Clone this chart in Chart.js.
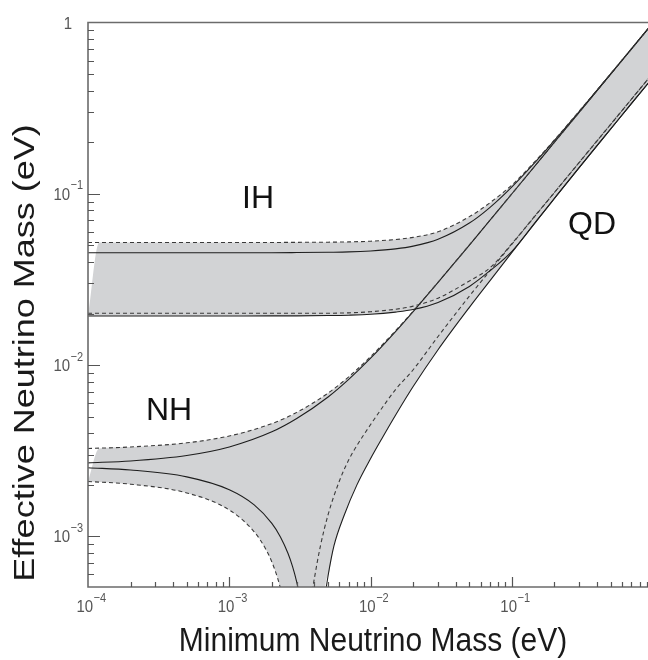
<!DOCTYPE html>
<html>
<head>
<meta charset="utf-8">
<script src="https://cdn.jsdelivr.net/npm/chart.js@4.4.1/dist/chart.umd.min.js"></script>
<style>
  html, body { margin: 0; padding: 0; background: #fff; }
  canvas { display: block; }
</style>
</head>
<body>
<canvas id="massChart" width="648" height="660"></canvas>
<script>
// lightest neutrino mass (eV) used by most of the curves
const mGrid = [1e-4, 2e-4, 5e-4, 1e-3, 2e-3, 3e-3, 5e-3, 7e-3, 1e-2, 1.5e-2, 2e-2, 3e-2, 5e-2, 7e-2, 0.1, 0.15, 0.2, 0.3, 0.5, 0.7, 0.92];

// inverted hierarchy band (effective mass, eV)
const ihUpperSolid  = [0.0453, 0.0453, 0.0453, 0.0453, 0.0453, 0.0454, 0.0456, 0.0458, 0.0464, 0.0477, 0.0495, 0.0543, 0.0675, 0.0834, 0.1098, 0.1567, 0.2051, 0.3034, 0.502, 0.7015, 0.921];
const ihUpperDashed = [0.0520, 0.0520, 0.0520, 0.0520, 0.0520, 0.0521, 0.0522, 0.0524, 0.0529, 0.0541, 0.0557, 0.0600, 0.0736, 0.0888, 0.1127, 0.1587, 0.2067, 0.3045, 0.5027, 0.7019, 0.9215];
const ihLowerSolid  = [0.01935, 0.01935, 0.01935, 0.01936, 0.01938, 0.0194, 0.01947, 0.01957, 0.0198, 0.0204, 0.0211, 0.0232, 0.0288, 0.0356, 0.0462, 0.0700, 0.0942, 0.1428, 0.2393, 0.3363, 0.442];
const ihLowerDashed = [0.0201, 0.0201, 0.0201, 0.0201, 0.0201, 0.0201, 0.0201, 0.0202, 0.0205, 0.0212, 0.0221, 0.0246, 0.0310, 0.0370, 0.0512, 0.0766, 0.1020, 0.1530, 0.2547, 0.3565, 0.4685];

// normal hierarchy band, upper edge
const nhUpperSolid  = [0.00269, 0.00276, 0.00297, 0.00333, 0.00408, 0.00488, 0.00652, 0.00826, 0.01098, 0.0157, 0.02055, 0.0304, 0.0502, 0.0702, 0.1001, 0.150, 0.200, 0.300, 0.500, 0.700, 0.920];
const nhUpperDashed = [0.00326, 0.00333, 0.00352, 0.00386, 0.00456, 0.0053, 0.00687, 0.00855, 0.01122, 0.01588, 0.02068, 0.03047, 0.05029, 0.0702, 0.1002, 0.1501, 0.2001, 0.300, 0.500, 0.700, 0.920];

// normal hierarchy lower edge, before the cancellation dip
const nhLowSolidLeftM  = [1e-4, 2e-4, 5e-4, 1e-3, 1.5e-3, 2e-3, 2.3e-3, 2.6e-3, 2.8e-3, 3.0e-3, 3.15e-3, 3.3e-3];
const nhLowSolidLeft   = [0.002517, 0.002444, 0.002228, 0.001874, 0.001529, 0.001192, 0.000994, 0.000798, 0.000669, 0.000542, 0.000447, 0.000352];
const nhLowDashedLeftM = [1e-4, 2e-4, 5e-4, 1e-3, 1.5e-3, 1.8e-3, 2.0e-3, 2.2e-3, 2.35e-3, 2.5e-3];
const nhLowDashedLeft  = [0.002094, 0.002019, 0.001795, 0.001427, 0.001065, 0.000851, 0.00071, 0.000569, 0.000465, 0.000361];

// normal hierarchy lower edge, after the dip
const nhLowSolidRightM  = [4.7e-3, 5e-3, 5.5e-3, 6.5e-3, 8e-3, 1e-2, 1.2e-2, 1.5e-2, 2e-2, 3e-2, 5e-2, 7e-2, 0.1, 0.15, 0.2, 0.3, 0.5, 0.7, 0.92];
const nhLowSolidRight   = [0.00042, 0.00059, 0.00088, 0.00133, 0.0020, 0.00285, 0.00372, 0.0051, 0.0075, 0.0123, 0.02175, 0.03115, 0.0455, 0.0698, 0.094, 0.1425, 0.239, 0.336, 0.4416];
const nhLowDashedRightM = [3.8e-3, 4e-3, 4.4e-3, 5e-3, 6e-3, 7e-3, 8e-3, 1e-2, 1.2e-2, 1.5e-2, 2e-2, 3e-2, 5e-2, 7e-2, 0.1, 0.15, 0.2, 0.3, 0.5, 0.7, 0.92];
const nhLowDashedRight  = [0.00044, 0.00057, 0.00087, 0.00134, 0.0021, 0.0028, 0.0034, 0.0045, 0.0056, 0.0072, 0.0094, 0.0147, 0.0253, 0.0356, 0.0509, 0.0764, 0.1018, 0.1527, 0.2545, 0.3563, 0.4683];

// axes
const xRange = [1e-4, 0.918];
const yRange = [5.07e-4, 1];
const xMajorTicks = [1e-4, 1e-3, 1e-2, 1e-1];
const xTickExps   = ['\u22124', '\u22123', '\u22122', '\u22121'];
const yMajorTicks = [1e-3, 1e-2, 1e-1, 1];
const yTickExps   = ['\u22123', '\u22122', '\u22121', null];

const xTitle = 'Minimum Neutrino Mass (eV)';
const yTitle = 'Effective Neutrino Mass (eV)';
const regionLabels = [
    { text: 'IH', x: 242, y: 208 },
    { text: 'NH', x: 146, y: 420 },
    { text: 'QD', x: 568, y: 234 }
];

// the shaded bands start slightly right of the axis at their top edge
const bandTopStart = 1.2e-4;
const belowAxis = 1e-5;

const bandGray = '#d2d3d5';
const fontFamily = '"Liberation Sans", Arial, Helvetica, sans-serif';

const pts = (xs, ys) => xs.map((x, i) => ({ x, y: ys[i] }));

const solidLine = data => ({
    data, borderColor: '#1e1e1e', borderWidth: 1.1, fill: false,
    pointRadius: 0, cubicInterpolationMode: 'monotone'
});
const dashedLine = data => Object.assign(solidLine(data), { borderColor: '#3a3a3a', borderDash: [4, 3] });
const bandEdge = (data, target) => ({
    data, borderColor: 'rgba(0,0,0,0)', borderWidth: 1, backgroundColor: bandGray,
    fill: target, pointRadius: 0, cubicInterpolationMode: 'monotone'
});

const ihTop = [{ x: mGrid[0], y: ihLowerSolid[0] }, { x: bandTopStart, y: ihUpperDashed[0] }]
    .concat(pts(mGrid.slice(1), ihUpperDashed.slice(1)));
const ihBottom = pts(mGrid, ihLowerSolid);
const nhTop = [{ x: mGrid[0], y: nhLowDashedLeft[0] }, { x: bandTopStart, y: nhUpperDashed[0] }]
    .concat(pts(mGrid.slice(1), nhUpperDashed.slice(1)));
const nhBottom = pts(nhLowDashedLeftM, nhLowDashedLeft)
    .concat([{ x: 2.7e-3, y: belowAxis }, { x: 4.5e-3, y: belowAxis }])
    .concat(pts(nhLowSolidRightM, nhLowSolidRight));

function drawPower(ctx, exp, cx, baseY) {
    ctx.save();
    ctx.translate(cx, baseY);
    ctx.scale(1, 1.15);
    ctx.fillStyle = '#555';
    ctx.textAlign = 'left';
    ctx.textBaseline = 'alphabetic';
    ctx.font = '15px ' + fontFamily;
    if (exp === null) {
        const w = ctx.measureText('1').width;
        ctx.fillText('1', -w / 2, 0);
    } else {
        const wb = ctx.measureText('10').width;
        ctx.font = '11px ' + fontFamily;
        const we = ctx.measureText(exp).width;
        const x0 = -(wb + we) / 2;
        ctx.font = '15px ' + fontFamily;
        ctx.fillText('10', x0, 0);
        ctx.font = '11px ' + fontFamily;
        ctx.fillText(exp, x0 + wb + 0.5, -9);
    }
    ctx.restore();
}

const frameAndText = {
    id: 'frameAndText',
    afterDatasetsDraw(chart) {
        const { ctx, chartArea: area, scales: { x, y } } = chart;
        ctx.save();

        // frame: the right edge of the plot runs off the page
        ctx.strokeStyle = '#6b6b6b';
        ctx.lineWidth = 1.6;
        ctx.beginPath();
        ctx.moveTo(area.right, area.top);
        ctx.lineTo(area.left, area.top);
        ctx.lineTo(area.left, area.bottom);
        ctx.lineTo(area.right, area.bottom);
        ctx.stroke();

        // inward log ticks
        ctx.strokeStyle = '#555';
        ctx.lineWidth = 1.2;
        ctx.beginPath();
        for (let e = -4; e <= 0; e++) {
            for (let k = 1; k <= 9; k++) {
                const v = k * Math.pow(10, e);
                if (v > x.min * 1.001 && v < x.max) {
                    const px = Math.round(x.getPixelForValue(v)) + 0.5;
                    ctx.moveTo(px, area.bottom);
                    ctx.lineTo(px, area.bottom - (k === 1 ? 10 : 5));
                }
                if (v > y.min && v < y.max * 0.999) {
                    const py = Math.round(y.getPixelForValue(v)) + 0.5;
                    ctx.moveTo(area.left, py);
                    ctx.lineTo(area.left + (k === 1 ? 12 : 6), py);
                }
            }
        }
        ctx.stroke();

        xMajorTicks.forEach((v, i) => drawPower(ctx, xTickExps[i], x.getPixelForValue(v) + 3, 612));
        yMajorTicks.forEach((v, i) => drawPower(ctx, yTickExps[i], 68, y.getPixelForValue(v) + 6));

        // axis titles
        ctx.fillStyle = '#1a1a1a';
        ctx.textAlign = 'center';
        ctx.textBaseline = 'alphabetic';
        ctx.font = '30px ' + fontFamily;
        ctx.save();
        ctx.translate(373, 651);
        ctx.scale(1, 1.1);
        ctx.fillText(xTitle, 0, 0);
        ctx.restore();

        ctx.save();
        ctx.translate(34, 353);
        ctx.rotate(-Math.PI / 2);
        ctx.scale(1.2, 1);
        ctx.fillText(yTitle, 0, 0);
        ctx.restore();

        // region labels
        ctx.fillStyle = '#111';
        ctx.textAlign = 'left';
        ctx.font = '32px ' + fontFamily;
        regionLabels.forEach(l => ctx.fillText(l.text, l.x, l.y));

        ctx.restore();
    }
};

new Chart(document.getElementById('massChart'), {
    type: 'line',
    data: {
        datasets: [
            bandEdge(ihTop, 1),
            bandEdge(ihBottom, false),
            bandEdge(nhTop, 3),
            bandEdge(nhBottom, false),
            dashedLine(pts(mGrid, ihUpperDashed)),
            solidLine(pts(mGrid, ihUpperSolid)),
            dashedLine(pts(mGrid, ihLowerDashed)),
            solidLine(pts(mGrid, ihLowerSolid)),
            dashedLine(pts(mGrid, nhUpperDashed)),
            solidLine(pts(mGrid, nhUpperSolid)),
            dashedLine(pts(nhLowDashedLeftM, nhLowDashedLeft)),
            solidLine(pts(nhLowSolidLeftM, nhLowSolidLeft)),
            dashedLine(pts(nhLowDashedRightM, nhLowDashedRight)),
            solidLine(pts(nhLowSolidRightM, nhLowSolidRight))
        ]
    },
    options: {
        responsive: false,
        animation: false,
        events: [],
        layout: { padding: { left: 88, top: 22.5, right: 0, bottom: 73 } },
        scales: {
            x: { type: 'logarithmic', min: xRange[0], max: xRange[1], display: false },
            y: { type: 'logarithmic', min: yRange[0], max: yRange[1], display: false }
        },
        plugins: {
            legend: { display: false },
            tooltip: { enabled: false },
            filler: { drawTime: 'beforeDatasetsDraw' }
        }
    },
    plugins: [frameAndText]
});
</script>
</body>
</html>
